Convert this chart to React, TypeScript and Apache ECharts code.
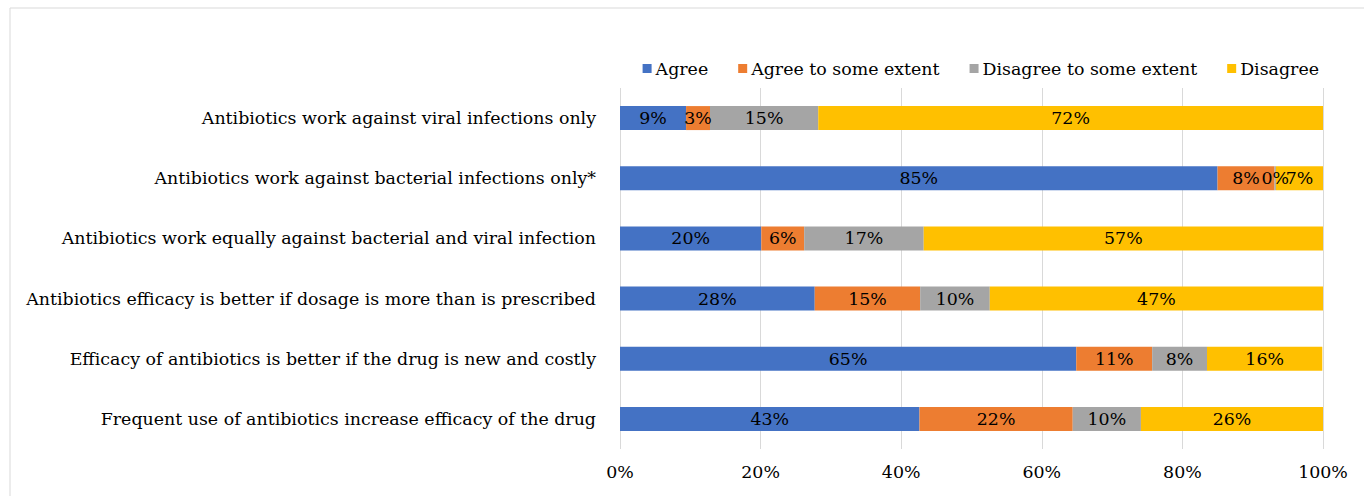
import React, { useEffect, useRef } from "react";
import * as echarts from "echarts";

const categories = [
  "Antibiotics work against viral infections only",
  "Antibiotics work against bacterial infections only*",
  "Antibiotics work equally against bacterial and viral infection",
  "Antibiotics efficacy is better if dosage is more than is prescribed",
  "Efficacy of antibiotics is better if the drug is new and costly",
  "Frequent use of antibiotics increase efficacy of the drug",
];
const seriesNames = ["Agree", "Agree to some extent", "Disagree to some extent", "Disagree"];
const agree = [9.4, 85.0, 20.1, 27.7, 64.9, 42.6];
const agreeSome = [3.4, 8.1, 6.1, 15.0, 10.8, 21.8];
const disagreeSome = [15.4, 0.2, 17.0, 9.9, 7.8, 9.7];
const disagree = [71.8, 6.7, 56.8, 47.4, 16.4, 25.9];
const colors = ["#4472C4", "#ED7D31", "#A5A5A5", "#FFC000"];
const xTicks = [0, 20, 40, 60, 80, 100];

const FONT = "DejaVu Serif";
const FS = 17.4;

export default function App() {
  const ref = useRef<HTMLDivElement>(null);
  useEffect(() => {
    const chart = echarts.init(ref.current!, null, { renderer: "svg" });
    const data = [agree, agreeSome, disagreeSome, disagree];
    chart.setOption({
      animation: false,
      backgroundColor: "#ffffff",
      textStyle: { fontFamily: FONT },
      graphic: [
        {
          type: "rect",
          shape: { x: 10, y: 8, width: 1400, height: 600 },
          style: { fill: "none", stroke: "#d9d9d9", lineWidth: 1 },
          silent: true,
        },
      ],
      legend: {
        data: seriesNames,
        right: 40,
        top: 55,
        itemWidth: 9,
        itemHeight: 9,
        itemGap: 30,
        icon: "rect",
        textStyle: { fontFamily: FONT, fontSize: FS, color: "#000", padding: [0, 0, 0, -1] },
      },
      grid: { left: 620, right: 41, top: 88, bottom: 47, containLabel: false },
      xAxis: {
        type: "value",
        min: 0,
        max: 100,
        interval: 20,
        axisLine: { show: false },
        axisTick: { show: false },
        splitLine: { show: true, lineStyle: { color: "#d9d9d9", width: 1 } },
        axisLabel: {
          fontFamily: FONT,
          fontSize: FS,
          color: "#000",
          margin: 14,
          formatter: (v: number) => (xTicks.includes(v) ? v + "%" : ""),
        },
      },
      yAxis: {
        type: "category",
        data: categories,
        inverse: true,
        axisLine: { show: false },
        axisTick: { show: false },
        axisLabel: { fontFamily: FONT, fontSize: FS, color: "#000", margin: 24 },
      },
      series: seriesNames.map((name, i) => ({
        name,
        type: "bar",
        stack: "total",
        barWidth: 24,
        data: data[i],
        itemStyle: { color: colors[i] },
        label: {
          show: true,
          position: "inside",
          fontFamily: FONT,
          fontSize: FS,
          color: "#000",
          formatter: (p: any) => Math.round(p.value) + "%",
        },
      })),
    });
    return () => chart.dispose();
  }, []);
  return (
    <div
      ref={ref}
      style={{ position: "fixed", left: 0, top: 0, width: 1364, height: 496 }}
    />
  );
}
